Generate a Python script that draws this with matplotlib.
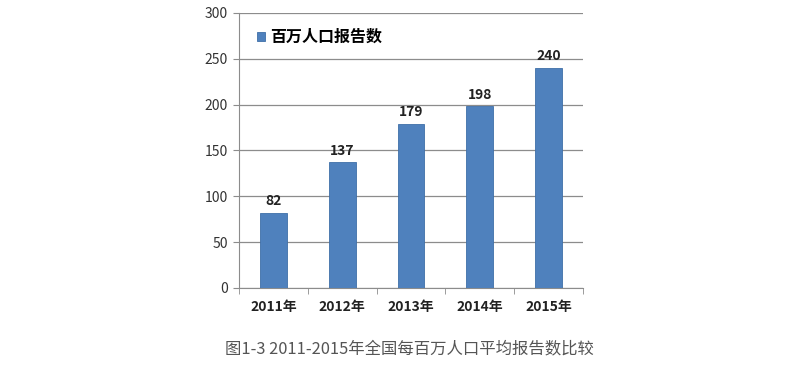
import matplotlib.pyplot as plt
import numpy as np

plt.rcParams['font.family'] = ['Noto Sans CJK SC', 'DejaVu Sans']

years = ['2011年', '2012年', '2013年', '2014年', '2015年']
reports = [82, 137, 179, 198, 240]
series_name = '百万人口报告数'
caption = '图1-3 2011-2015年全国每百万人口平均报告数比较'

fig = plt.figure(figsize=(7.9, 3.67), dpi=100)
ax = fig.add_axes([0.3025, 0.2153, 0.4355, 0.7493])

x = np.arange(len(years))
bars = ax.bar(x, reports, width=0.39, color='#4f81bd', edgecolor='#3f6fa8',
              linewidth=0.6, label=series_name, zorder=3)

for b, v in zip(bars, reports):
    ax.text(b.get_x() + b.get_width() / 2, v + 5, str(v), ha='center', va='bottom',
            fontsize=10, fontweight='bold', color='#222222')

ax.set_xlim(-0.5, len(years) - 0.5)
ax.set_ylim(0, 300)
ax.set_yticks(range(0, 301, 50))
ax.yaxis.grid(True, color='#8c8c8c', linewidth=0.9, zorder=0)
ax.set_axisbelow(True)

ax.set_xticks(x)
ax.set_xticklabels(years, fontsize=10, fontweight='bold', color='#222222')
ax.set_xticks(np.arange(-0.5, len(years)), minor=True)
ax.tick_params(axis='x', which='major', length=0, pad=9)
ax.tick_params(axis='x', which='minor', length=4, color='#8c8c8c')
ax.tick_params(axis='y', length=4, color='#8c8c8c', labelsize=10, labelcolor='#333333', pad=4)

for s in ['top', 'right']:
    ax.spines[s].set_visible(False)
ax.spines['left'].set_color('#8c8c8c')
ax.spines['bottom'].set_color('#8c8c8c')

leg = ax.legend(loc='upper left', bbox_to_anchor=(0.01, 0.995), frameon=False,
                handlelength=0.5, handleheight=0.5, handletextpad=0.35,
                prop={'size': 11.5, 'weight': 'bold'})

fig.text(0.518, 0.05, caption, ha='center', va='center', fontsize=11.8, color='#555555')

fig.savefig('out.png', dpi=100, facecolor='white')
